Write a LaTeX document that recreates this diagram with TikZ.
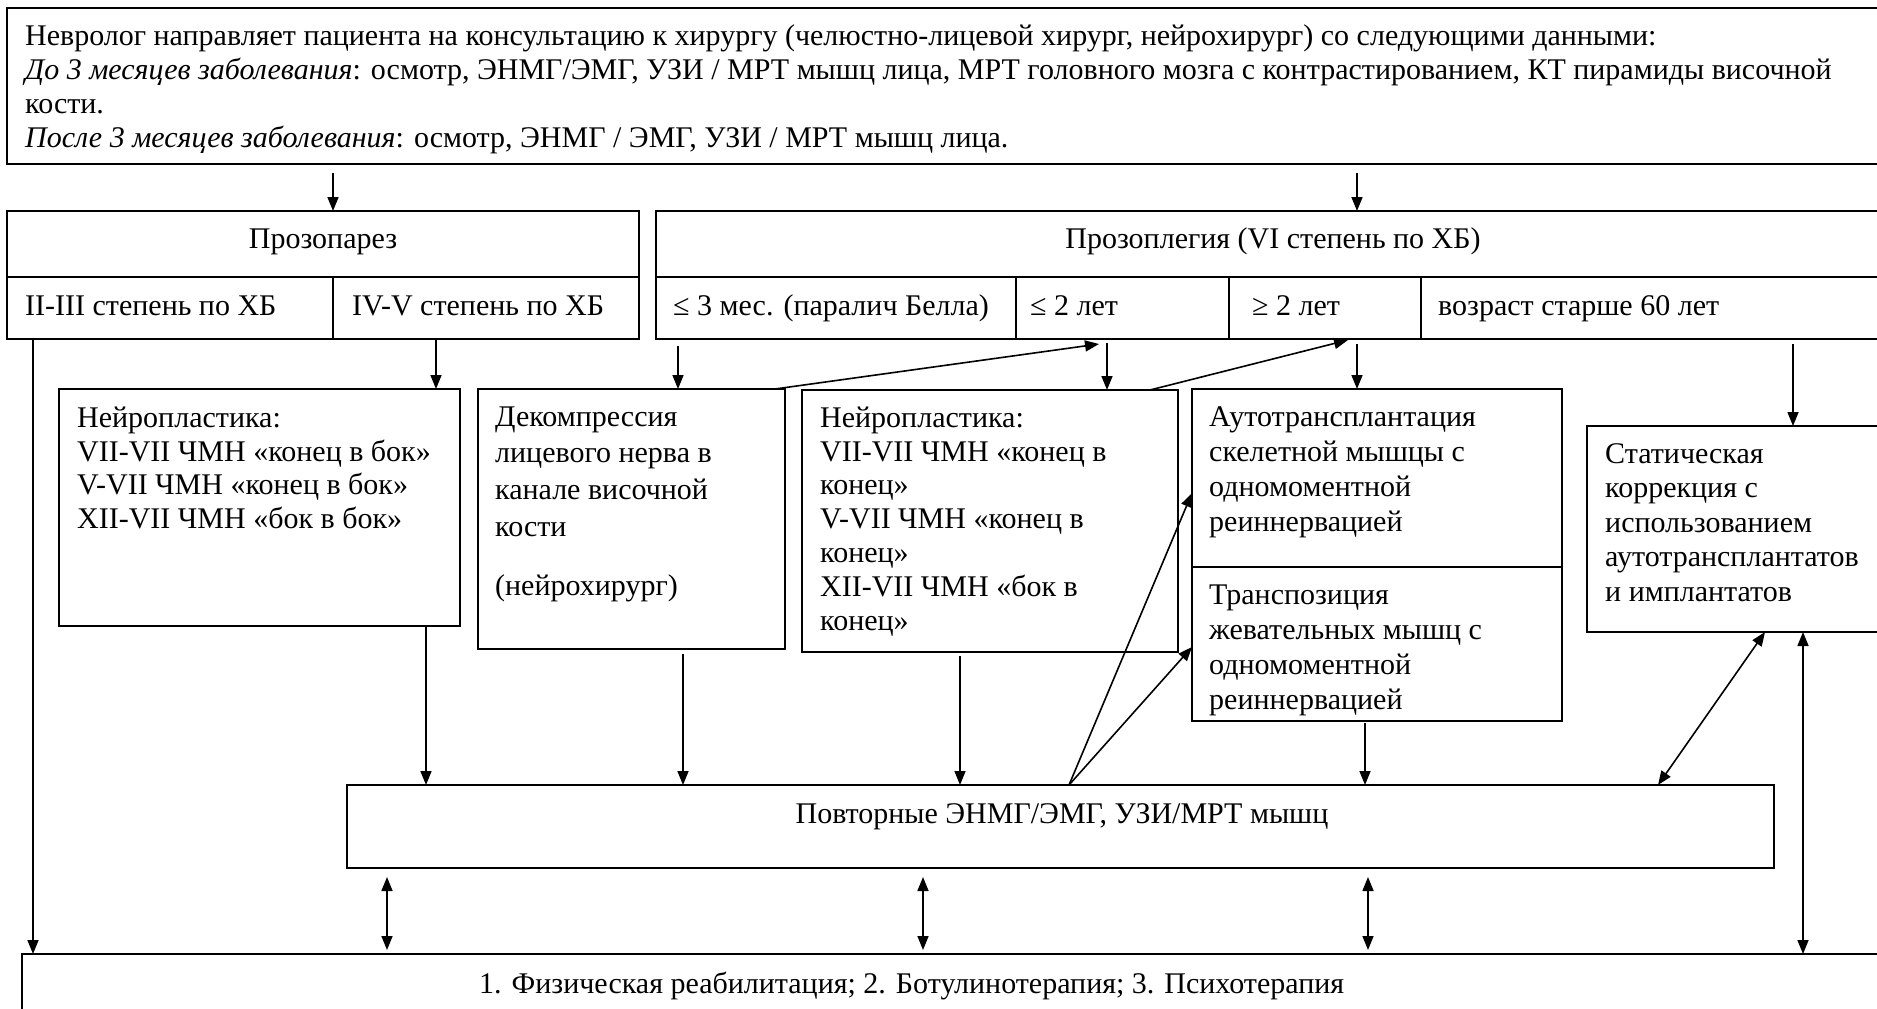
\documentclass[tikz,border=0pt]{standalone}
\usepackage{fontspec}
\setmainfont{Liberation Serif}
\usetikzlibrary{arrows.meta}
\begin{document}
\begin{tikzpicture}[x=1pt,y=-1pt,
  box/.style={draw, line width=2pt, inner sep=0pt, outer sep=0pt, anchor=north west},
  % multi-line texts are placed by the baseline of their last line
  txt/.style={inner sep=0pt, anchor=base west, align=left, font=\fontsize{30}{34}\selectfont},
  ctxt/.style={inner sep=0pt, anchor=base, font=\fontsize{30}{34}\selectfont},
  tip/.tip={Triangle[length=14pt,width=11pt]},
  arr/.style={line width=1.6pt, -tip},
  darr/.style={line width=1.6pt, tip-tip}]
\useasboundingbox (0,0) rectangle (1877,1009);
\clip (0,0) rectangle (1877,1009);
\fill[white] (0,0) rectangle (1877,1009);

% ---- boxes ----
\node[box, minimum width=1883pt, minimum height=156pt] (intro) at (7,8) {};
\node[box, minimum width=632pt, minimum height=66pt] (hpar) at (7,211) {};
\node[box, minimum width=326pt, minimum height=62pt] (c23) at (7,277) {};
\node[box, minimum width=306pt, minimum height=62pt] (c45) at (333,277) {};
\node[box, minimum width=1234pt, minimum height=66pt] (hpleg) at (656,211) {};
\node[box, minimum width=360pt, minimum height=62pt] (cb) at (656,277) {};
\node[box, minimum width=213pt, minimum height=62pt] (cl2) at (1016,277) {};
\node[box, minimum width=192pt, minimum height=62pt] (cg2) at (1229,277) {};
\node[box, minimum width=469pt, minimum height=62pt] (c60) at (1421,277) {};
\node[box, minimum width=401pt, minimum height=237pt] (np1) at (59,389) {};
\node[box, minimum width=307pt, minimum height=260pt] (decomp) at (478,389) {};
\node[box, minimum width=376pt, minimum height=262pt] (np2) at (802,390) {};
\node[box, minimum width=370pt, minimum height=178pt] (auto) at (1192,389) {};
\node[box, minimum width=370pt, minimum height=154pt] (transp) at (1192,567) {};
\node[box, minimum width=303pt, minimum height=206pt] (static) at (1587,426) {};
\node[box, minimum width=1427pt, minimum height=83pt] (povt) at (347,785) {};
\node[box, minimum width=1868pt, minimum height=80pt] (final) at (22,954) {};

% ---- texts ----
\node[txt] (intro-t) at (25,147) {Невролог направляет пациента на консультацию к хирургу (челюстно-лицевой хирург, нейрохирург) со следующими данными:\\
\textit{До 3 месяцев заболевания}: осмотр, ЭНМГ/ЭМГ, УЗИ / МРТ мышц лица, МРТ головного мозга с контрастированием, КТ пирамиды височной\\
кости.\\
\textit{После 3 месяцев заболевания}: осмотр, ЭНМГ / ЭМГ, УЗИ / МРТ мышц лица.};
\node[ctxt] (hpar-t) at (323,248) {Прозопарез};
\node[ctxt] (hpleg-t) at (1273,248) {Прозоплегия (VI степень по ХБ)};
\node[txt] (c23-t) at (25,315) {II-III степень по ХБ};
\node[txt] (c45-t) at (352,315) {IV-V степень по ХБ};
\node[txt] (cb-t) at (673,315) {≤ 3 мес. (паралич Белла)};
\node[txt] (cl2-t) at (1030,315) {≤ 2 лет};
\node[txt] (cg2-t) at (1252,315) {≥ 2 лет};
\node[txt] (c60-t) at (1438,315) {возраст старше 60 лет};
\node[txt, font=\fontsize{30}{33.5}\selectfont] (np1-t) at (77,528) {Нейропластика:\\VII-VII ЧМН «конец в бок»\\V-VII ЧМН «конец в бок»\\XII-VII ЧМН «бок в бок»};
\node[txt, font=\fontsize{30}{36.7}\selectfont] (decomp-t) at (495,595) {Декомпрессия\\лицевого нерва в\\канале височной\\кости\\[22pt](нейрохирург)};
\node[txt, font=\fontsize{30}{33.8}\selectfont] (np2-t) at (820,630) {Нейропластика:\\VII-VII ЧМН «конец в\\конец»\\V-VII ЧМН «конец в\\конец»\\XII-VII ЧМН «бок в\\конец»};
\node[txt, font=\fontsize{30}{35}\selectfont] (auto-t) at (1209,531) {Аутотрансплантация\\скелетной мышцы с\\одномоментной\\реиннервацией};
\node[txt, font=\fontsize{30}{35}\selectfont] (transp-t) at (1209,709) {Транспозиция\\жевательных мышц с\\одномоментной\\реиннервацией};
\node[txt, font=\fontsize{30}{34.5}\selectfont] (static-t) at (1605,601) {Статическая\\коррекция с\\использованием\\аутотрансплантатов\\и имплантатов};
\node[ctxt] (povt-t) at (1062,823) {Повторные ЭНМГ/ЭМГ, УЗИ/МРТ мышц};
\node[txt] (final-t) at (479,993) {1. Физическая реабилитация; 2. Ботулинотерапия; 3. Психотерапия};

% ---- connectors ----
\draw[arr, shorten <=9pt] (intro.south -| 333,0) -- (hpar.north -| 333,0);
\draw[arr, shorten <=9pt] (intro.south -| 1357,0) -- (hpleg.north -| 1357,0);
\draw[arr] (c23.south -| 33,0) -- (final.north -| 33,0);
\draw[arr] (c45.south -| 436,0) -- (np1.north -| 436,0);
\draw[arr, shorten <=7pt] (cb.south -| 678,0) -- (decomp.north -| 678,0);
\draw[arr] ([xshift=-10pt]decomp.north east) -- ([xshift=83pt,yshift=-5pt]cl2.south west);
\draw[arr, shorten <=4pt] (cl2.south -| 1107,0) -- (np2.north -| 1107,0);
\draw[arr] ([xshift=-28pt]np2.north east) -- ([xshift=119pt,yshift=-1pt]cg2.south west);
\draw[arr, shorten <=5pt] (cg2.south -| 1357,0) -- (auto.north -| 1357,0);
\draw[arr, shorten <=5pt] (c60.south -| 1793,0) -- (static.north -| 1793,0);
\draw[arr] (np1.south -| 426,0) -- (povt.north -| 426,0);
\draw[arr, shorten <=5pt] (decomp.south -| 683,0) -- (povt.north -| 683,0);
\draw[arr, shorten <=4pt] (np2.south -| 960,0) -- (povt.north -| 960,0);
\draw[arr, shorten <=2pt] (transp.south -| 1365,0) -- (povt.north -| 1365,0);
\draw[arr] (povt.north -| 1069,0) -- (auto.west |- 0,493);
\draw[arr] (povt.north -| 1069,0) -- (transp.west |- 0,647);
\draw[darr] (static.south -| 1765,0) -- (povt.north -| 1658,0);
\draw[darr] (static.south -| 1803,0) -- (final.north -| 1803,0);
\draw[darr, shorten <=9pt, shorten >=4pt] (povt.south -| 387,0) -- (final.north -| 387,0);
\draw[darr, shorten <=9pt, shorten >=4pt] (povt.south -| 923,0) -- (final.north -| 923,0);
\draw[darr, shorten <=9pt, shorten >=4pt] (povt.south -| 1368,0) -- (final.north -| 1368,0);
\end{tikzpicture}
\end{document}
